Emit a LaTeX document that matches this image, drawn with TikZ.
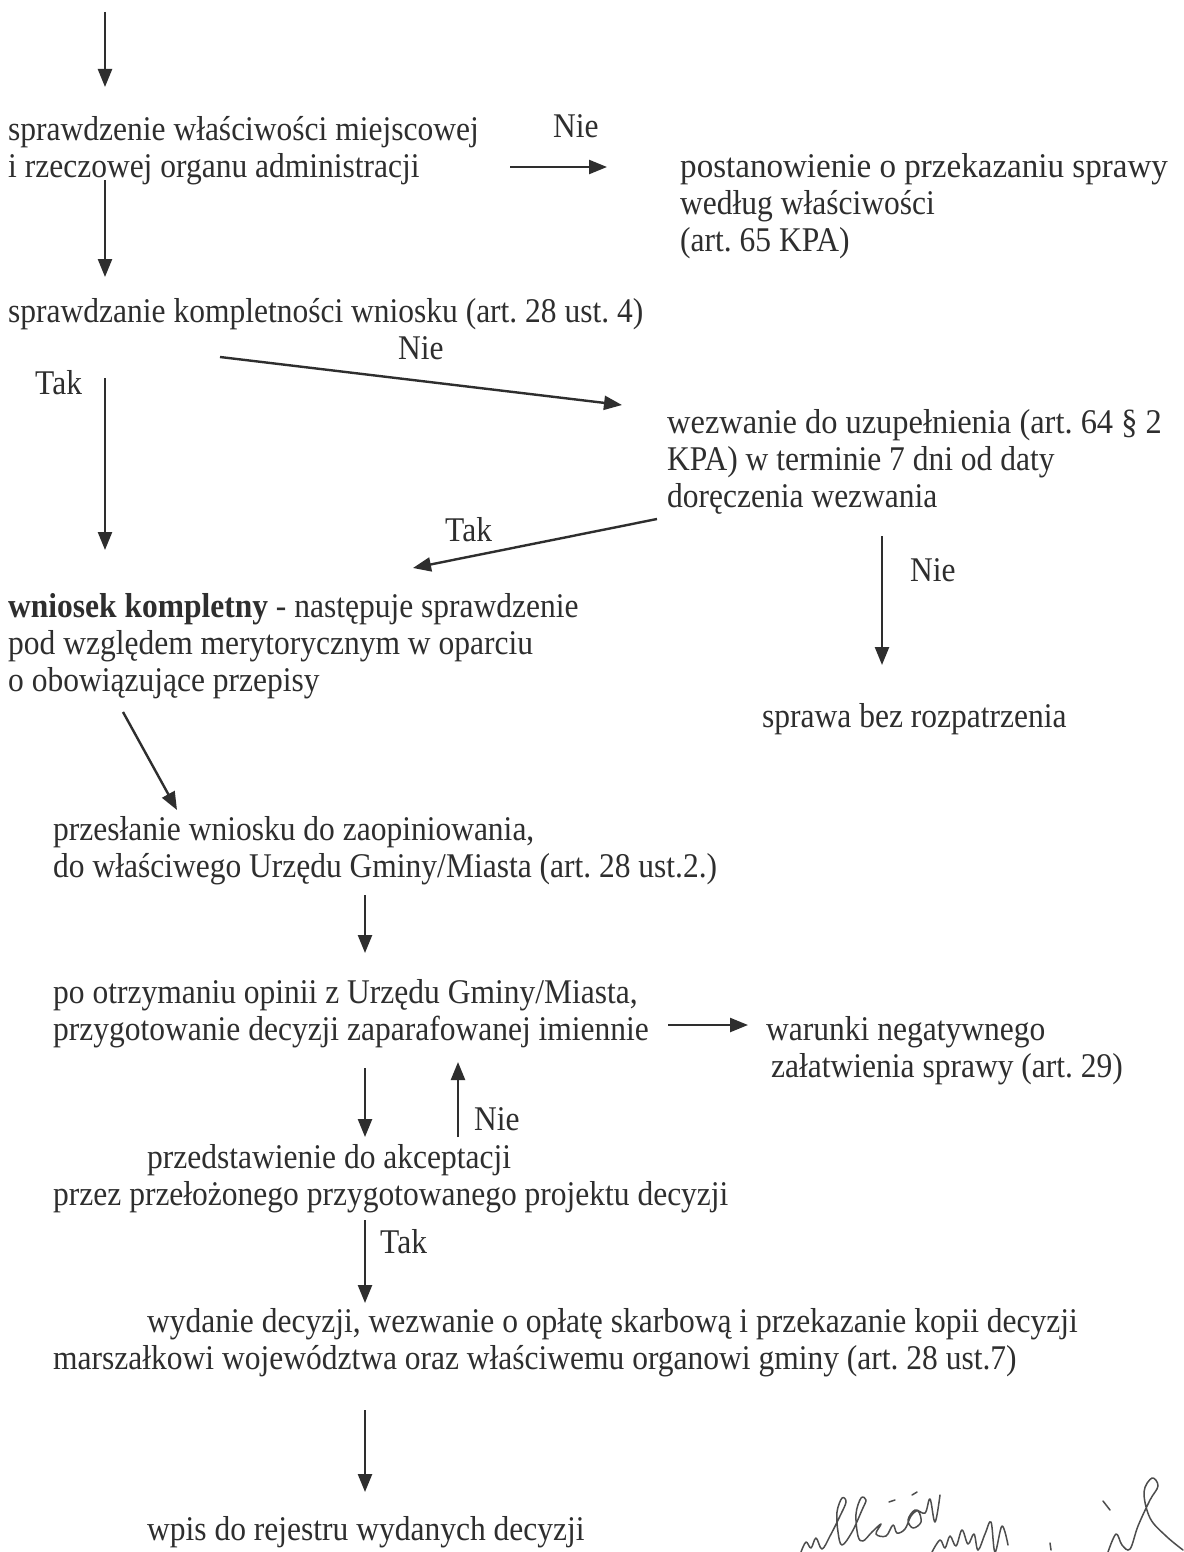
\documentclass[tikz,border=0pt]{standalone}
\usepackage{fontspec}
\setmainfont{Liberation Serif}
\usetikzlibrary{arrows.meta}
\definecolor{ink}{HTML}{2E2E2E}
\tikzset{
  txt/.style={anchor=base west, inner sep=0pt, text=ink, yscale=1.1, font=\fontsize{31.5}{37}\selectfont\frenchspacing},
  flow/.style={draw=ink, line width=2.4pt, -{Triangle[length=18pt,width=14pt]}},
  sig/.style={draw=ink!85, line width=1.5pt, line cap=round, line join=round}
}
\begin{document}
\begin{tikzpicture}[x=1pt,y=-1pt]
\useasboundingbox (0,0) rectangle (1183,1552);
\fill[white] (0,0) rectangle (1183,1552);

% texts
\node[txt] (t1a) at (8,140) {sprawdzenie właściwości miejscowej};
\node[txt] (t1b) at (8,177) {i rzeczowej organu administracji};
\node[txt] (nie1) at (553,138) {Nie};
\node[txt, xscale=1.05] (r1a) at (680,177) {postanowienie o przekazaniu sprawy};
\node[txt] (r1b) at (680,214) {według właściwości};
\node[txt] (r1c) at (680,251) {(art. 65 KPA)};
\node[txt] (t2) at (8,322) {sprawdzanie kompletności wniosku (art. 28 ust. 4)};
\node[txt] (nie2) at (398,359) {Nie};
\node[txt] (tak1) at (35,394) {Tak};
\node[txt, xscale=1.03] (w1) at (667,433) {wezwanie do uzupełnienia (art. 64 § 2};
\node[txt] (w2) at (667,470) {KPA) w terminie 7 dni od daty};
\node[txt] (w3) at (667,507) {doręczenia wezwania};
\node[txt] (tak2) at (445,541) {Tak};
\node[txt] (nie3) at (910,581) {Nie};
\node[txt] (k1) at (8,617) {\textbf{wniosek kompletny} - następuje sprawdzenie};
\node[txt] (k2) at (8,654) {pod względem merytorycznym w oparciu};
\node[txt] (k3) at (8,691) {o obowiązujące przepisy};
\node[txt] (sbr) at (762,727) {sprawa bez rozpatrzenia};
\node[txt] (p1) at (53,840) {przesłanie wniosku do zaopiniowania,};
\node[txt] (p2) at (53,877) {do właściwego Urzędu Gminy/Miasta (art. 28 ust.2.)};
\node[txt] (o1) at (53,1003) {po otrzymaniu opinii z Urzędu Gminy/Miasta,};
\node[txt] (o2) at (53,1040) {przygotowanie decyzji zaparafowanej imiennie};
\node[txt] (n1) at (766,1040) {warunki negatywnego};
\node[txt] (n2) at (771,1077) {załatwienia sprawy (art. 29)};
\node[txt] (nie4) at (474,1130) {Nie};
\node[txt] (a1) at (147,1168) {przedstawienie do akceptacji};
\node[txt] (a2) at (53,1205) {przez przełożonego przygotowanego projektu decyzji};
\node[txt] (tak3) at (380,1253) {Tak};
\node[txt] (d1) at (147,1332) {wydanie decyzji, wezwanie o opłatę skarbową i przekazanie kopii decyzji};
\node[txt] (d2) at (53,1369) {marszałkowi województwa oraz właściwemu organowi gminy (art. 28 ust.7)};
\node[txt] (wp) at (147,1540) {wpis do rejestru wydanych decyzji};

% connector end points
\coordinate (c0s) at (105,12);   \coordinate (c0e) at (105,87);
\coordinate (c1s) at (510,167);  \coordinate (c1e) at (607,167);
\coordinate (c2s) at (105,180);  \coordinate (c2e) at (105,277);
\coordinate (c3s) at (220,357);  \coordinate (c3e) at (622,405);
\coordinate (c4s) at (105,378);  \coordinate (c4e) at (105,550);
\coordinate (c5s) at (657,519);  \coordinate (c5e) at (413,568);
\coordinate (c6s) at (882,536);  \coordinate (c6e) at (882,665);
\coordinate (c7s) at (123,712);  \coordinate (c7e) at (177,810);
\coordinate (c8s) at (365,895);  \coordinate (c8e) at (365,953);
\coordinate (c9s) at (668,1025); \coordinate (c9e) at (748,1025);
\coordinate (c10s) at (365,1068); \coordinate (c10e) at (365,1137);
\coordinate (c11s) at (458,1137); \coordinate (c11e) at (458,1062);
\coordinate (c12s) at (365,1220); \coordinate (c12e) at (365,1303);
\coordinate (c13s) at (365,1410); \coordinate (c13e) at (365,1492);

\draw[flow] (c0s) -- (c0e);
\draw[flow] (c1s) -- (c1e);
\draw[flow] (c2s) -- (c2e);
\draw[flow] (c3s) -- (c3e);
\draw[flow] (c4s) -- (c4e);
\draw[flow] (c5s) -- (c5e);
\draw[flow] (c6s) -- (c6e);
\draw[flow] (c7s) -- (c7e);
\draw[flow] (c8s) -- (c8e);
\draw[flow] (c9s) -- (c9e);
\draw[flow] (c10s) -- (c10e);
\draw[flow] (c11s) -- (c11e);
\draw[flow] (c12s) -- (c12e);
\draw[flow] (c13s) -- (c13e);

% signature scribble
\draw[sig] plot[smooth, tension=0.6] coordinates {(801,1552) (806,1542) (811,1548) (816,1538) (822,1549) (830,1536) (840,1516) (846,1502) (842,1498) (837,1512) (838,1532) (842,1545) (852,1532) (862,1510) (866,1500) (861,1498) (856,1514) (858,1536) (863,1541) (872,1532) (881,1524) (876,1534) (886,1536) (893,1525) (897,1533) (905,1529) (911,1516) (918,1511) (921,1522) (913,1528) (908,1520) (915,1510) (925,1513) (930,1499) (935,1522) (940,1495)};
\draw[sig] (889,1502) -- (895,1500);
\draw[sig] (912,1495) -- (917,1492);
\draw[sig] plot[smooth, tension=0.6] coordinates {(932,1552) (940,1540) (945,1548) (950,1536) (956,1546) (962,1530) (968,1544) (974,1534) (978,1550) (985,1534) (991,1522) (995,1552) (1002,1526) (1008,1545)};
\draw[sig] (1050,1543) -- (1051,1550);
\draw[sig] (1103,1501) -- (1110,1510);
\draw[sig] plot[smooth, tension=0.6] coordinates {(1108,1552) (1116,1534) (1122,1545) (1130,1549) (1138,1526) (1150,1500) (1158,1486) (1152,1478) (1144,1492) (1150,1518) (1166,1536) (1183,1550)};
\end{tikzpicture}
\end{document}
